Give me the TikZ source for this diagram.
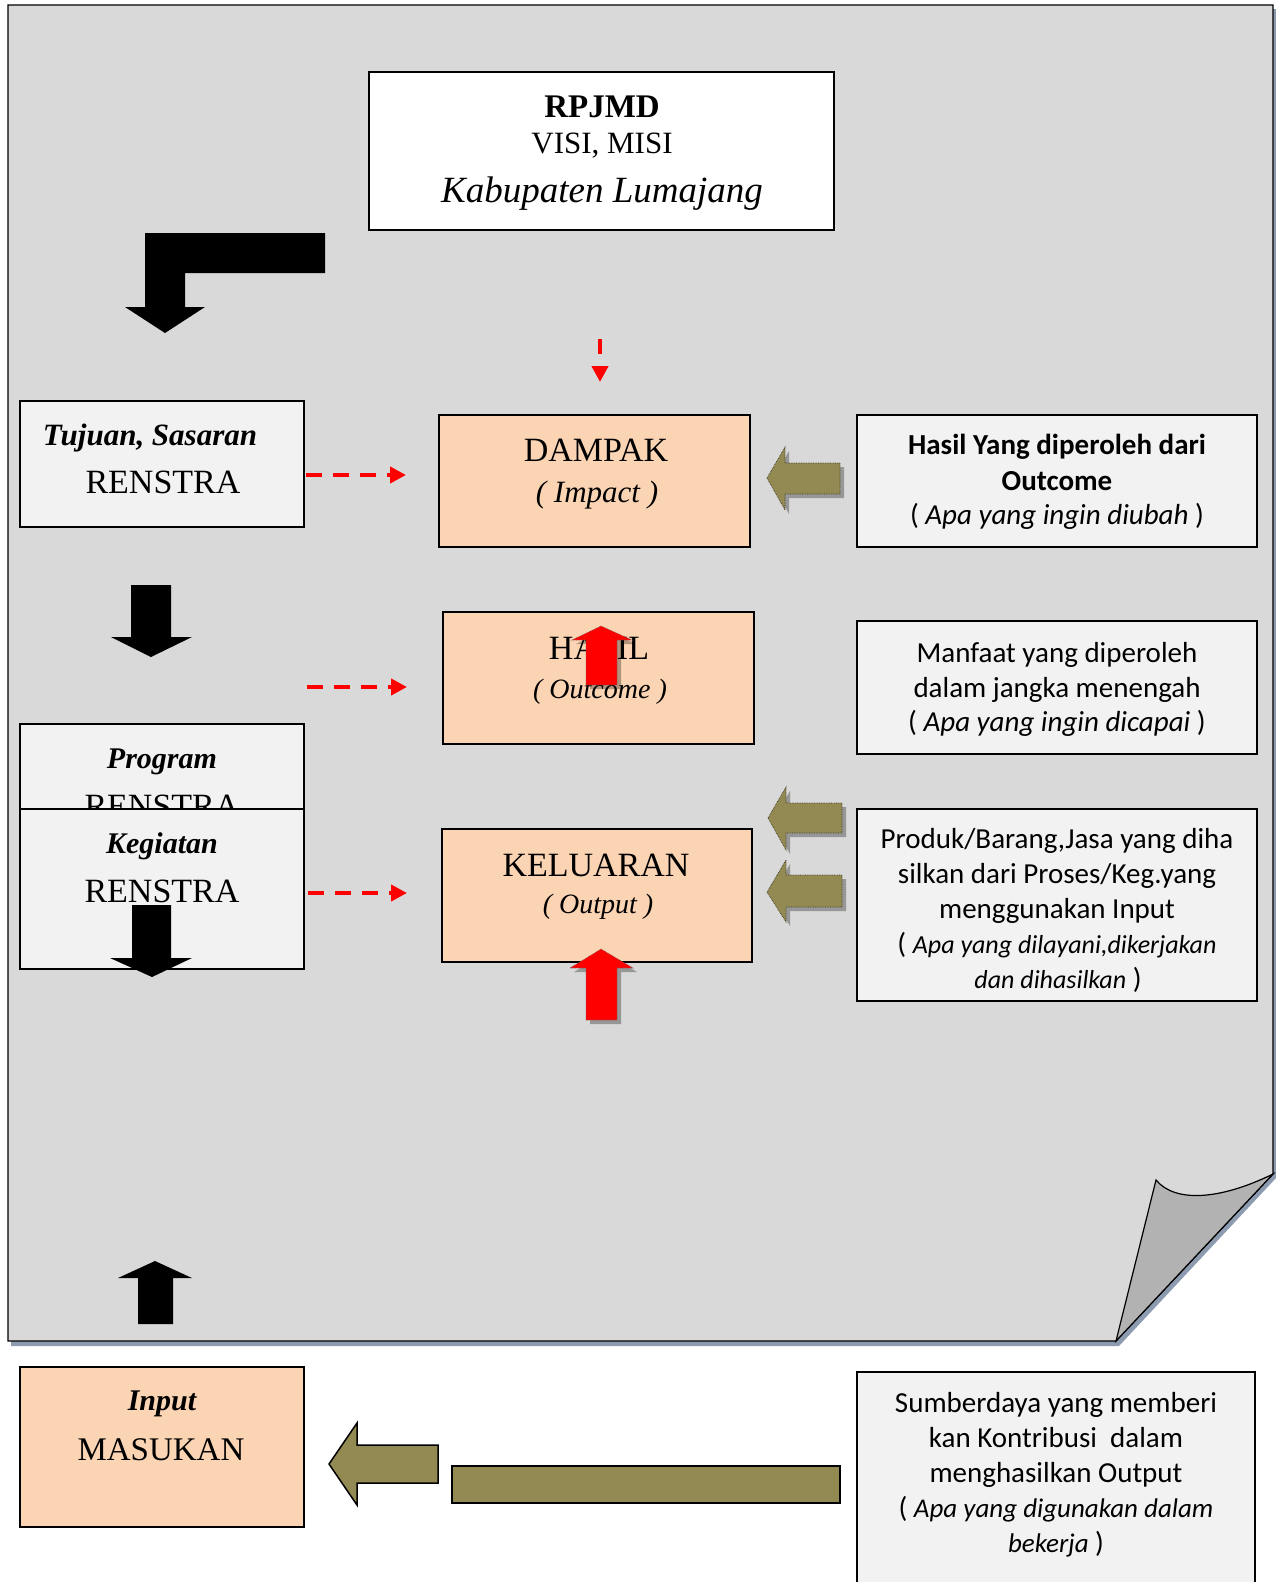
\documentclass[tikz,border=0pt]{standalone}
\usepackage{fontspec}
\setmainfont{Liberation Serif}
\newfontfamily\calfont{Carlito}
\usetikzlibrary{arrows.meta,fit}
\definecolor{pagegray}{HTML}{D9D9D9}
\definecolor{flapgray}{HTML}{B2B2B2}
\definecolor{peach}{HTML}{FBD4B4}
\definecolor{boxlight}{HTML}{F2F2F2}
\definecolor{olivefill}{HTML}{938953}
\definecolor{shadowblue}{HTML}{8D9BB0}
\tikzset{
  box/.style={draw=black, line width=1.6pt, inner sep=0pt},
  sertxt/.style={anchor=base, inner sep=0pt, font=\fontsize{34}{40}\selectfont},
  scrtxt/.style={anchor=base, inner sep=0pt, font=\bfseries\itshape\fontsize{30}{36}\selectfont},
  paren/.style={anchor=base, inner sep=0pt, font=\itshape\fontsize{28}{34}\selectfont},
  rt/.style={anchor=base, inner sep=0pt, font=\calfont\fontsize{29}{35}\selectfont},
  reddash/.style={draw=red, line width=4pt, dash pattern=on 16pt off 11pt, -{Triangle[length=16pt,width=16pt]}},
  blockshadow/.style={fill=black, opacity=0.3},
  olivearrow/.style={fill=olivefill, draw=black!60!olivefill, line width=0.7pt, densely dotted},
  olivesolid/.style={fill=olivefill, draw=black, line width=1.5pt},
  redarrow/.style={fill=red, draw=black!60, line width=0.6pt, densely dotted},
  blackarrow/.style={fill=black, draw=none},
}
\begin{document}
\begin{tikzpicture}[x=1pt,y=-1pt]
\useasboundingbox (0,0) rectangle (1276,1582);
\clip (0,0) rectangle (1276,1582);
\fill[white] (0,0) rectangle (1276,1582);
% page with shadow and curl
\fill[shadowblue] (11,9) -- (1276,9) -- (1276,1178) -- (1119,1346) -- (11,1346) -- cycle;
\draw[fill=pagegray, line width=1.2pt] (8,5) -- (1273,5) -- (1273,1174) -- (1116,1341) -- (8,1341) -- cycle;
\draw[fill=flapgray, line width=1.2pt] (1116,1341) -- (1156,1180) .. controls (1175,1203) and (1220,1200) .. (1273,1174) -- cycle;

% RPJMD
\node[box, fill=white, fit={(369,72) (834,230)}] (rpjmd) {};
\node[anchor=base, inner sep=0pt, font=\bfseries\fontsize{33}{38}\selectfont] (rpjmdt) at (602,117) {RPJMD};
\node[anchor=base, inner sep=0pt, font=\fontsize{31}{36}\selectfont] (visi) at (602,153) {VISI, MISI};
\node[anchor=base, inner sep=0pt, font=\itshape\fontsize{37}{42}\selectfont] (kab) at (602,202) {Kabupaten Lumajang};

% left boxes
\node[box, fill=boxlight, fit={(20,401) (304,527)}] (tujuan) {};
\node[scrtxt, font=\bfseries\itshape\fontsize{31}{36}\selectfont] (tujuant) at (150,445) {Tujuan, Sasaran};
\node[sertxt] (tujuanr) at (163,493) {RENSTRA};

\node[box, fill=boxlight, fit={(20,724) (304,880)}] (program) {};
\node[scrtxt] (programt) at (162,768) {Program};
\node[sertxt] (programr) at (162,817) {RENSTRA};

\node[box, fill=boxlight, fit={(20,809) (304,969)}] (kegiatan) {};
\node[scrtxt] (kegiatant) at (162,853) {Kegiatan};
\node[sertxt] (kegiatanr) at (162,902) {RENSTRA};

\node[box, fill=peach, fit={(20,1367) (304,1527)}] (masukan) {};
\node[scrtxt] (inputt) at (162,1410) {Input};
\node[sertxt, font=\fontsize{33}{40}\selectfont] (masukant) at (161,1460) {MASUKAN};

% middle boxes
\node[box, fill=peach, fit={(439,415) (750,547)}] (dampak) {};
\node[sertxt] (dampakt) at (596,461) {DAMPAK};
\node[paren, font=\itshape\fontsize{31}{34}\selectfont] (impact) at (597,502) {( Impact )};

\node[box, fill=peach, fit={(443,612) (754,744)}] (hasil) {};
\node[sertxt] (hasilt) at (599,659) {HASIL};
\node[paren] (outcome) at (600,698) {( Outcome )};

\node[box, fill=peach, fit={(442,829) (752,962)}] (keluaran) {};
\node[sertxt] (keluarant) at (596,876) {KELUARAN};
\node[paren] (output) at (598,913) {( Output )};

% right boxes
\node[box, fill=boxlight, fit={(857,415) (1257,547)}] (rhasil) {};
\node[rt, font=\calfont\bfseries\fontsize{29}{35}\selectfont] (rh1) at (1057,454) {Hasil Yang diperoleh dari};
\node[rt, font=\calfont\bfseries\fontsize{29}{35}\selectfont] (rh2) at (1057,490) {Outcome};
\node[rt] (rh3) at (1057,524) {( \textit{Apa yang ingin diubah} )};

\node[box, fill=boxlight, fit={(857,621) (1257,754)}] (manfaat) {};
\node[rt] (rm1) at (1057,662) {Manfaat yang diperoleh};
\node[rt] (rm2) at (1057,697) {dalam jangka menengah};
\node[rt] (rm3) at (1057,731) {( \textit{Apa yang ingin dicapai} )};

\node[box, fill=boxlight, fit={(857,809) (1257,1001)}] (produk) {};
\node[rt] (rp1) at (1057,848) {Produk/Barang,Jasa yang diha};
\node[rt] (rp2) at (1057,883) {silkan dari Proses/Keg.yang};
\node[rt] (rp3) at (1057,918) {menggunakan Input};
\node[rt] (rp4) at (1057,953) {( {\itshape\fontsize{26}{32}\selectfont Apa yang dilayani,dikerjakan}};
\node[rt] (rp5) at (1058,988) {{\itshape\fontsize{26}{32}\selectfont dan dihasilkan} )};

\node[box, fill=boxlight, fit={(857,1372) (1255,1620)}] (sumber) {};
\node[rt] (rs1) at (1056,1412) {Sumberdaya yang memberi};
\node[rt] (rs2) at (1056,1447) {kan Kontribusi\ \ dalam};
\node[rt] (rs3) at (1056,1482) {menghasilkan Output};
\node[rt] (rs4) at (1056,1517) {( {\itshape\fontsize{27}{32}\selectfont Apa yang digunakan dalam}};
\node[rt] (rs5) at (1056,1552) {{\itshape\fontsize{27}{32}\selectfont bekerja} )};

% red dashed connectors
\coordinate (da1) at (306,475); \coordinate (db1) at (406,475);
\coordinate (da2) at (307,687); \coordinate (db2) at (407,687);
\coordinate (da3) at (308,893); \coordinate (db3) at (407,893);
\coordinate (dv1) at (600,339); \coordinate (dv2) at (600,382);
\draw[reddash] (da1) -- (db1);
\draw[reddash] (da2) -- (db2);
\draw[reddash] (da3) -- (db3);
\draw[reddash, dash pattern=on 15pt off 12pt] (dv1) -- (dv2);

% black block arrows
\fill[blackarrow] (325,233) -- (145,233) -- (145,307) -- (125,307) -- (165,333) -- (205,307) -- (185,307) -- (185,273) -- (325,273) -- cycle;
\fill[blackarrow] (131,585) -- (171,585) -- (171,637) -- (192,637) -- (151,657) -- (111,637) -- (131,637) -- cycle;
\fill[blackarrow] (132,905) -- (171,905) -- (171,958) -- (192,958) -- (152,977) -- (110,958) -- (132,958) -- cycle;
\fill[blackarrow] (155,1261) -- (192,1278) -- (173,1278) -- (173,1324) -- (138,1324) -- (138,1278) -- (118,1278) -- cycle;

% olive arrows (dotted, with shadow)
\begin{scope}[shift={(4,4)}]
\fill[blockshadow] (767,478) -- (785,447) -- (785,463) -- (840,463) -- (840,494) -- (785,494) -- (785,510) -- cycle;
\fill[blockshadow] (768,818) -- (786,787) -- (786,803) -- (842,803) -- (842,833) -- (786,833) -- (786,850) -- cycle;
\fill[blockshadow] (767,892) -- (786,860) -- (786,875) -- (842,875) -- (842,907) -- (786,907) -- (786,922) -- cycle;
\end{scope}
\draw[olivearrow] (767,478) -- (785,447) -- (785,463) -- (840,463) -- (840,494) -- (785,494) -- (785,510) -- cycle;
\draw[olivearrow] (768,818) -- (786,787) -- (786,803) -- (842,803) -- (842,833) -- (786,833) -- (786,850) -- cycle;
\draw[olivearrow] (767,892) -- (786,860) -- (786,875) -- (842,875) -- (842,907) -- (786,907) -- (786,922) -- cycle;

% bottom olive arrow and bar
\draw[olivesolid] (329,1464) -- (357,1423) -- (357,1445) -- (438,1445) -- (438,1483) -- (357,1483) -- (357,1505) -- cycle;
\draw[olivesolid] (452,1466) rectangle (840,1503);

% red block arrows
\begin{scope}[shift={(4,4)}]
\fill[blockshadow] (601,626) -- (632,640) -- (617,640) -- (617,685) -- (586,685) -- (586,640) -- (572,640) -- cycle;
\fill[blockshadow] (601,949) -- (633,968) -- (617,968) -- (617,1020) -- (586,1020) -- (586,968) -- (570,968) -- cycle;
\end{scope}
\draw[redarrow] (601,626) -- (632,640) -- (617,640) -- (617,685) -- (586,685) -- (586,640) -- (572,640) -- cycle;
\draw[redarrow] (601,949) -- (633,968) -- (617,968) -- (617,1020) -- (586,1020) -- (586,968) -- (570,968) -- cycle;
\end{tikzpicture}
\end{document}
